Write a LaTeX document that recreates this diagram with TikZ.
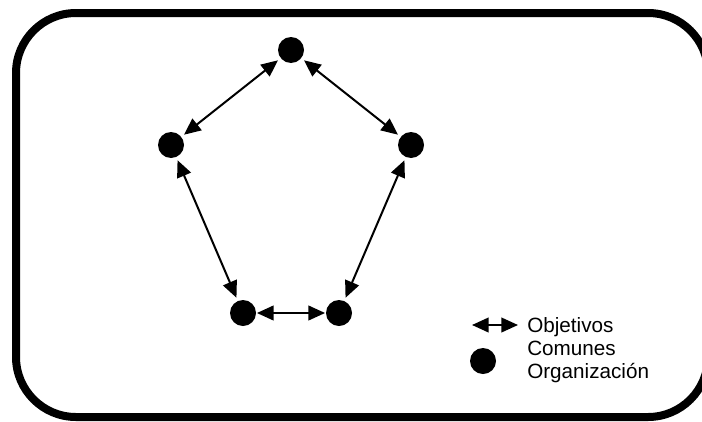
\documentclass[tikz,border=0pt]{standalone}
\usepackage{fontspec}
\setmainfont{Liberation Sans}
\usetikzlibrary{arrows.meta}
\tikzset{
  org/.style={fill=black,shape=circle,minimum size=19.5pt,inner sep=0pt},
  link/.style={{Triangle[length=12.5pt,width=11pt]}-{Triangle[length=12.5pt,width=11pt]},line width=1.5pt,shorten <=2.5pt,shorten >=2.5pt}
}
\begin{document}
\begin{tikzpicture}[x=0.75pt,y=-0.75pt]
\useasboundingbox (0,0) rectangle (702,421);
\begin{scope}
\clip (0,0) rectangle (702,421);
\draw[line width=6pt,rounded corners=45pt] (16,13) rectangle (708,417);
\end{scope}
\node[org](O1) at (291,50){};
\node[org](O2) at (171,145){};
\node[org](O3) at (411,145){};
\node[org](O4) at (243,313){};
\node[org](O5) at (339,313){};
\draw[link] (O1) -- (O2);
\draw[link] (O1) -- (O3);
\draw[link] (O2) -- (O4);
\draw[link] (O3) -- (O5);
\draw[link,shorten <=0.5pt,shorten >=0.5pt] (O4) -- (O5);
% leyenda
\coordinate (A1) at (472,325);
\coordinate (A2) at (518,325);
\draw[link,shorten <=0pt,shorten >=0pt] (A1) -- (A2);
\node[org](L) at (483,361){};
\node[anchor=north west,align=left,font=\fontsize{15.5}{17.25}\selectfont,inner sep=0pt](T) at (527,317){Objetivos\\Comunes\\Organización};
\end{tikzpicture}
\end{document}
